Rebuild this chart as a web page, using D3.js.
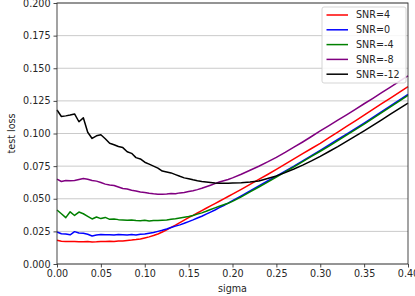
<!DOCTYPE html>
<html>
<head>
<meta charset="utf-8">
<script src="https://cdn.jsdelivr.net/npm/d3@7"></script>
<style>
  body { margin: 0; background: #fff; }
  text { font-family: "DejaVu Sans", sans-serif; }
</style>
</head>
<body>
<svg id="chart"></svg>
<script>
// sigma values on the x axis
var sigma = [0, .005, .01, .015, .02, .025, .03, .035, .04, .045, .05, .055, .06, .065, .07, .075, .08, .085, .09, .095,
  .10, .105, .11, .115, .12, .125, .13, .135, .14, .145, .15, .155, .16, .165, .17, .175, .18, .185, .19, .195,
  .20, .21, .22, .23, .24, .25, .26, .27, .28, .29, .30, .31, .32, .33, .34, .35, .36, .37, .38, .39, .40];

var snr4 = [.0182, .0175, .0172, .0172, .0173, .0171, .0170, .0172, .0169, .0170, .0173, .0172, .0174, .0173, .0176, .0177, .0180, .0183, .0187, .0192,
  .0200, .0208, .0218, .0230, .0245, .0262, .0280, .0298, .0317, .0336, .0355, .0373, .0391, .0409, .0427, .0445, .0463, .0481, .0499, .0517,
  .0535, .0572, .0610, .0648, .0686, .0725, .0765, .0805, .0845, .0885, .0925, .0968, .1011, .1054, .1097, .1140, .1184, .1228, .1272, .1316, .1360];

var snr0 = [.0245, .0232, .0230, .0224, .0248, .0238, .0236, .0228, .0215, .0222, .0226, .0224, .0225, .0222, .0226, .0224, .0222, .0226, .0223, .0228,
  .0230, .0236, .0242, .0250, .0258, .0268, .0280, .0290, .0300, .0312, .0325, .0338, .0352, .0366, .0382, .0398, .0414, .0432, .0448, .0466,
  .0485, .0522, .0560, .0598, .0636, .0674, .0712, .0750, .0790, .0830, .0870, .0912, .0954, .0996, .1038, .1080, .1124, .1168, .1212, .1256, .1300];

var snrm4 = [.0414, .0385, .0355, .0400, .0372, .0398, .0385, .0365, .0345, .0360, .0348, .0357, .0342, .0345, .0340, .0338, .0336, .0337, .0334, .0332,
  .0335, .0330, .0334, .0333, .0336, .0338, .0342, .0346, .0352, .0358, .0364, .0372, .0382, .0392, .0404, .0418, .0430, .0442, .0454, .0466,
  .0480, .0514, .0552, .0590, .0628, .0666, .0706, .0744, .0784, .0824, .0864, .0904, .0946, .0988, .1030, .1072, .1116, .1160, .1204, .1248, .1292];

var snrm8 = [.0650, .0632, .0640, .0638, .0640, .0648, .0655, .0650, .0640, .0635, .0625, .0612, .0605, .0602, .0590, .0578, .0575, .0565, .0560, .0552,
  .0548, .0542, .0538, .0535, .0534, .0536, .0540, .0538, .0545, .0548, .0556, .0562, .0570, .0580, .0592, .0604, .0616, .0628, .0638, .0648,
  .0660, .0688, .0718, .0749, .0782, .0817, .0855, .0895, .0935, .0977, .1020, .1061, .1102, .1143, .1185, .1228, .1270, .1313, .1356, .1399, .1442];

var snrm12 = [.1180, .1130, .1135, .1142, .1150, .1090, .1120, .1010, .0962, .0982, .0990, .0960, .0925, .0914, .0900, .0892, .0860, .0848, .0815, .0805,
  .0780, .0765, .0750, .0735, .0712, .0705, .0698, .0685, .0672, .0660, .0654, .0645, .0638, .0632, .0628, .0624, .0620, .0619, .0618, .0619,
  .0620, .0622, .0628, .0636, .0655, .0675, .0700, .0728, .0758, .0790, .0825, .0862, .0900, .0940, .0980, .1020, .1062, .1105, .1148, .1190, .1232];

var seriesNames = ["SNR=4", "SNR=0", "SNR=-4", "SNR=-8", "SNR=-12"];
var seriesValues = [snr4, snr0, snrm4, snrm8, snrm12];
var seriesColors = ["#ff0000", "#0000ff", "#008000", "#800080", "#000000"];

var xTicks = [0, 0.05, 0.1, 0.15, 0.2, 0.25, 0.3, 0.35, 0.4];
var yTicks = [0, 0.025, 0.05, 0.075, 0.1, 0.125, 0.15, 0.175, 0.2];

var width = 415, height = 296;
var margin = {top: 3, right: 7, bottom: 32, left: 57};

var svg = d3.select("#chart")
  .attr("width", width)
  .attr("height", height);

var x = d3.scaleLinear().domain([0, 0.4]).range([margin.left, width - margin.right]);
var y = d3.scaleLinear().domain([0, 0.2]).range([height - margin.bottom, margin.top]);

// grid
svg.append("g")
  .selectAll("line")
  .data(yTicks)
  .enter()
  .append("line")
  .attr("x1", x(0))
  .attr("x2", x(0.4))
  .attr("y1", function(d){ return y(d); })
  .attr("y2", function(d){ return y(d); })
  .attr("stroke", "#c4c4c4")
  .attr("stroke-width", 0.9);

// curves
var line = d3.line()
  .x(function(d, i){ return x(sigma[i]); })
  .y(function(d){ return y(d); });

svg.append("g")
  .selectAll("path")
  .data(seriesValues)
  .enter()
  .append("path")
  .attr("d", function(d){ return line(d); })
  .attr("fill", "none")
  .attr("stroke", function(d, i){ return seriesColors[i]; })
  .attr("stroke-width", 1.5)
  .attr("stroke-linejoin", "round");

// axes
var xAxis = svg.append("g")
  .attr("transform", "translate(0," + y(0) + ")")
  .call(d3.axisBottom(x).tickValues(xTicks).tickFormat(d3.format(".2f")).tickSize(3.5).tickPadding(3));

var yAxis = svg.append("g")
  .attr("transform", "translate(" + x(0) + ",0)")
  .call(d3.axisLeft(y).tickValues(yTicks).tickFormat(d3.format(".3f")).tickSize(3.5).tickPadding(3));

[xAxis, yAxis].forEach(function(a){
  a.select(".domain").remove();
  a.selectAll("line").attr("stroke", "#333").attr("stroke-width", 0.9);
  a.selectAll("text").attr("font-size", "9.6px").attr("fill", "#262626")
    .attr("font-family", "DejaVu Sans, sans-serif");
});

// frame
svg.append("rect")
  .attr("x", x(0))
  .attr("y", y(0.2))
  .attr("width", x(0.4) - x(0))
  .attr("height", y(0) - y(0.2))
  .attr("fill", "none")
  .attr("stroke", "#333")
  .attr("stroke-width", 0.9);

// labels
svg.append("text")
  .attr("x", (x(0) + x(0.4)) / 2)
  .attr("y", 292)
  .attr("text-anchor", "middle")
  .attr("font-size", "9.6px")
  .attr("fill", "#262626")
  .text("sigma");

svg.append("text")
  .attr("transform", "translate(15," + ((y(0) + y(0.2)) / 2) + ") rotate(-90)")
  .attr("text-anchor", "middle")
  .attr("font-size", "9.6px")
  .attr("fill", "#262626")
  .text("test loss");

// legend
var legend = svg.append("g").attr("transform", "translate(322,7)");
legend.append("rect")
  .attr("width", 84)
  .attr("height", 76)
  .attr("rx", 2)
  .attr("fill", "white")
  .attr("fill-opacity", 0.85)
  .attr("stroke", "#d0d0d0")
  .attr("stroke-width", 0.9);

var entries = legend.selectAll("g.entry")
  .data(seriesNames)
  .enter()
  .append("g")
  .attr("class", "entry")
  .attr("transform", function(d, i){ return "translate(0," + (8 + i * 14.8) + ")"; });

entries.append("line")
  .attr("x1", 4.5)
  .attr("x2", 26)
  .attr("stroke", function(d, i){ return seriesColors[i]; })
  .attr("stroke-width", 1.5);

entries.append("text")
  .attr("x", 34)
  .attr("dy", "0.35em")
  .attr("font-size", "9.6px")
  .attr("fill", "#262626")
  .text(function(d){ return d; });
</script>
</body>
</html>
